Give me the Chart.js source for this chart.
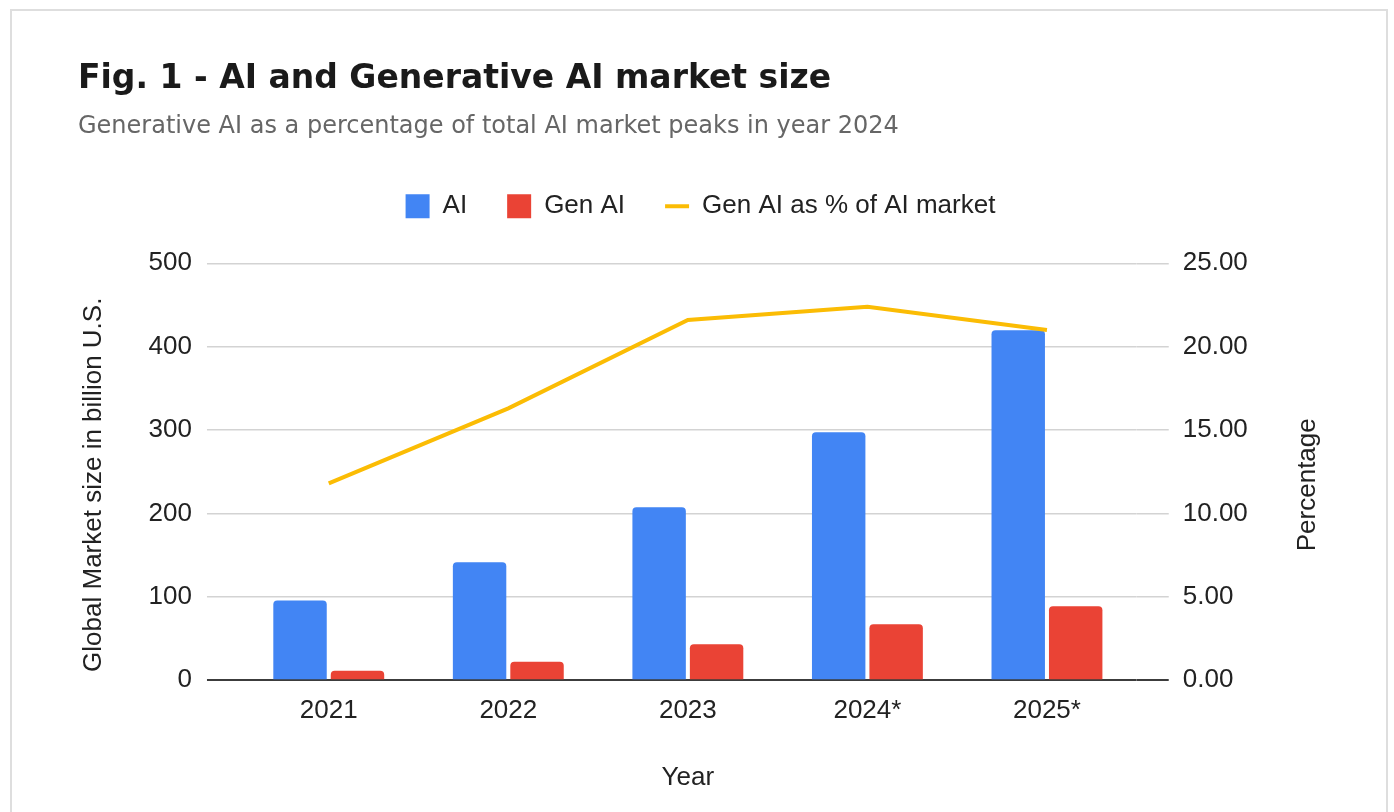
<!DOCTYPE html>
<html>
<head>
<meta charset="utf-8">
<script src="https://cdn.jsdelivr.net/npm/chart.js@4.4.1/dist/chart.umd.min.js"></script>
<style>
  html, body { margin: 0; padding: 0; background: #fff; }
  .card {
    position: absolute; left: 10px; top: 9px; width: 1378px; height: 900px;
    border: 2px solid #dedede; box-sizing: border-box;
  }
  .wrap { position: absolute; left: 0; top: 0; width: 1394px; height: 812px; }
</style>
</head>
<body>
<div class="card"></div>
<div class="wrap"><canvas id="marketChart"></canvas></div>
<script>
// Chart data
const years = ['2021', '2022', '2023', '2024*', '2025*'];
const aiMarket = [95.6, 141.5, 207.4, 297.4, 419.7];
const genAiMarket = [11.2, 22.0, 43.2, 67.1, 88.7];
const genAiShare = [11.8, 16.3, 21.6, 22.4, 21.0];

const leftTitle = 'Global Market size in billion U.S.';
const rightTitle = 'Percentage';

const axisFont = { family: '"Liberation Sans", Arial, sans-serif', size: 26 };
const gridColor = ctx => ctx.tick.value === 0 ? '#3c3c3c' : '#d3d3d3';
const gridWidth = ctx => ctx.tick.value === 0 ? 2 : 1.5;

// extra room below the legend (Chart.js only pads above it)
const legendGap = {
  id: 'legendGap',
  afterInit(chart) {
    const legend = chart.legend;
    const fit = legend.fit;
    legend.fit = function () {
      fit.call(this);
      this.height += 34;
    };
  }
};

// axis titles both read bottom-to-top, like the original
const axisTitles = {
  id: 'axisTitles',
  afterDraw(chart) {
    const { ctx, chartArea, scales } = chart;
    const midY = (chartArea.top + chartArea.bottom) / 2 + 13;
    ctx.save();
    ctx.font = '26px "Liberation Sans", Arial, sans-serif';
    ctx.fillStyle = '#222';
    ctx.textAlign = 'center';
    ctx.textBaseline = 'middle';
    [[scales.y.left + 15.6, leftTitle], [scales.y1.right - 15.6, rightTitle]].forEach(([x, text]) => {
      ctx.save();
      ctx.translate(x, midY);
      ctx.rotate(-Math.PI / 2);
      ctx.fillText(text, 0, 0);
      ctx.restore();
    });
    ctx.restore();
  }
};

const ctx = document.getElementById('marketChart').getContext('2d');
new Chart(ctx, {
  type: 'bar',
  data: {
    labels: years,
    datasets: [
      {
        label: 'AI',
        data: aiMarket,
        backgroundColor: '#4285F4',
        borderWidth: 0,
        borderRadius: 4,
        pointStyle: 'rect',
        categoryPercentage: 0.64,
        barPercentage: 0.93,
        yAxisID: 'y'
      },
      {
        label: 'Gen AI',
        data: genAiMarket,
        backgroundColor: '#EA4335',
        borderWidth: 0,
        borderRadius: 4,
        pointStyle: 'rect',
        categoryPercentage: 0.64,
        barPercentage: 0.93,
        yAxisID: 'y'
      },
      {
        type: 'line',
        label: 'Gen AI as % of AI market',
        data: genAiShare,
        borderColor: '#FBBC04',
        backgroundColor: '#FBBC04',
        borderWidth: 4,
        pointRadius: 0,
        pointStyle: 'line',
        tension: 0,
        order: -1,
        yAxisID: 'y1'
      }
    ]
  },
  options: {
    responsive: true,
    maintainAspectRatio: false,
    animation: false,
    layout: { padding: { left: 78, right: 71, top: 0, bottom: 0 } },
    plugins: {
      title: {
        display: true,
        align: 'start',
        text: 'Fig. 1 - AI and Generative AI market size',
        color: '#1a1a1a',
        font: { family: '"DejaVu Sans", sans-serif', size: 33, weight: 'bold' },
        padding: { top: 60, bottom: 0 }
      },
      subtitle: {
        display: true,
        align: 'start',
        text: 'Generative AI as a percentage of total AI market peaks in year 2024',
        color: '#666',
        font: { family: '"DejaVu Sans", sans-serif', size: 24, weight: 'normal' },
        padding: { top: 12.5, bottom: 12.4 }
      },
      legend: {
        position: 'top',
        labels: {
          usePointStyle: true,
          pointStyleWidth: 24,
          boxHeight: 24,
          padding: 40,
          color: '#222',
          font: axisFont,
          sort: (a, b) => a.datasetIndex - b.datasetIndex
        }
      },
      tooltip: { enabled: false }
    },
    scales: {
      x: {
        grid: { display: false, drawTicks: false },
        border: { display: false },
        ticks: { color: '#222', font: axisFont, padding: 15 },
        title: {
          display: true,
          text: 'Year',
          color: '#222',
          font: axisFont,
          padding: { top: 21, bottom: 18.4 }
        }
      },
      y: {
        position: 'left',
        min: 0,
        max: 500,
        grid: { color: gridColor, lineWidth: gridWidth, tickLength: 32 },
        border: { display: false },
        ticks: { stepSize: 100, color: '#222', font: axisFont, padding: 15 },
        title: {
          display: true,
          text: leftTitle,
          color: 'rgba(0,0,0,0)',
          font: axisFont,
          padding: { top: 0, bottom: 24.4 }
        }
      },
      y1: {
        position: 'right',
        min: 0,
        max: 25,
        grid: { color: gridColor, lineWidth: gridWidth, tickLength: 32, drawOnChartArea: false },
        border: { display: false },
        ticks: {
          stepSize: 5,
          color: '#222',
          font: axisFont,
          padding: 14,
          callback: v => v.toFixed(2)
        },
        title: {
          display: true,
          text: rightTitle,
          color: 'rgba(0,0,0,0)',
          font: axisFont,
          padding: { top: 0, bottom: 30 }
        }
      }
    }
  },
  plugins: [legendGap, axisTitles]
});
</script>
</body>
</html>
